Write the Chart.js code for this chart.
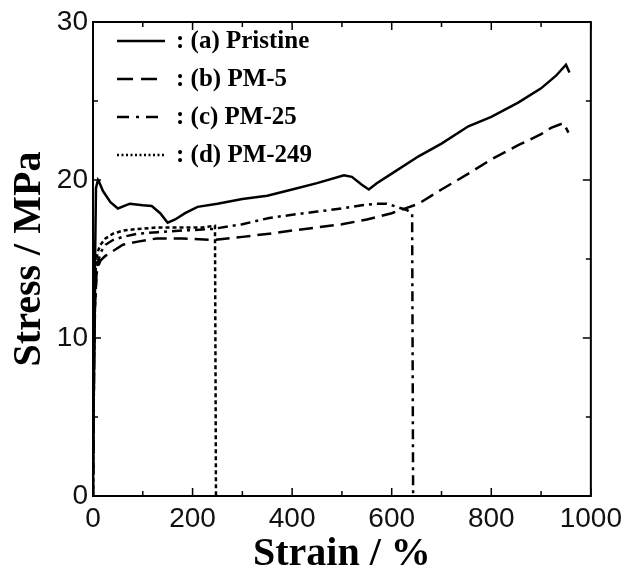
<!DOCTYPE html>
<html>
<head>
<meta charset="utf-8">
<script src="https://cdn.jsdelivr.net/npm/chart.js@4/dist/chart.umd.min.js"></script>
<style>
  html, body { margin: 0; padding: 0; background: #fff; }
  #wrap { width: 628px; height: 575px; }
</style>
</head>
<body>
<div id="wrap"><canvas id="chart" width="628" height="575"></canvas></div>
<script>
// strain (%) / stress (MPa)
const pristineX = [0, 3, 6, 10, 12, 20, 35, 50, 74, 100, 118, 135, 150, 165, 185, 210, 250, 300, 350, 400, 450, 504, 520, 540, 554, 570, 600, 654, 700, 754, 800, 854, 900, 930, 950, 957];
const pristineY = [0, 12, 19.5, 20, 19.9, 19.3, 18.6, 18.2, 18.5, 18.4, 18.35, 17.9, 17.3, 17.5, 17.9, 18.3, 18.5, 18.8, 19.0, 19.4, 19.8, 20.3, 20.2, 19.7, 19.4, 19.8, 20.4, 21.5, 22.3, 23.4, 24.0, 24.9, 25.8, 26.6, 27.3, 26.8];

const pm5X = [0, 2, 4, 7, 10, 15, 25, 40, 60, 90, 128, 180, 240, 300, 354, 400, 450, 500, 550, 600, 654, 700, 754, 800, 854, 900, 920, 945, 955];
const pm5Y = [0, 8, 12, 14, 14.5, 14.9, 15.2, 15.5, 15.9, 16.1, 16.3, 16.3, 16.2, 16.4, 16.6, 16.8, 17.0, 17.2, 17.5, 17.9, 18.5, 19.4, 20.4, 21.3, 22.2, 22.9, 23.3, 23.6, 23.0];

const pm25X = [0, 2, 4, 7, 10, 15, 25, 40, 60, 90, 130, 180, 240, 300, 354, 400, 450, 500, 540, 570, 590, 610, 630, 641, 643];
const pm25Y = [0, 8, 12, 14, 14.8, 15.4, 15.9, 16.2, 16.4, 16.6, 16.7, 16.8, 16.9, 17.2, 17.6, 17.8, 18.0, 18.2, 18.4, 18.5, 18.5, 18.3, 18.1, 17.9, 0];

const pm249X = [0, 2, 4, 6, 10, 15, 25, 40, 60, 90, 130, 180, 220, 245, 247];
const pm249Y = [0, 8, 13, 14.8, 15.5, 15.9, 16.3, 16.6, 16.8, 16.9, 17.0, 17.0, 17.0, 17.1, 0];

const seriesNames = ["(a) Pristine", "(b) PM-5", "(c) PM-25", "(d) PM-249"];
const xTicks = [0, 200, 400, 600, 800, 1000];
const yTicks = [0, 10, 20, 30];

const pts = (xs, ys) => xs.map((x, i) => ({ x, y: ys[i] }));

const serif = "'Liberation Serif', 'Times New Roman', serif";
const sans = "'Liberation Sans', Arial, sans-serif";

// inward ticks on all four sides + frame
const frameTicks = {
  id: "frameTicks",
  afterDraw(chart) {
    const { ctx, chartArea: a, scales } = chart;
    const x = scales.x, y = scales.y;
    ctx.save();
    ctx.strokeStyle = "#000";
    ctx.lineWidth = 2;
    ctx.strokeRect(a.left, a.top, a.right - a.left, a.bottom - a.top);
    ctx.lineWidth = 1.5;
    ctx.beginPath();
    for (let v = 0; v <= 1000; v += 100) {
      const px = x.getPixelForValue(v);
      const len = v % 200 === 0 ? 8 : 5;
      ctx.moveTo(px, a.bottom); ctx.lineTo(px, a.bottom - len);
      ctx.moveTo(px, a.top); ctx.lineTo(px, a.top + len);
    }
    for (let v = 0; v <= 30; v += 5) {
      const py = y.getPixelForValue(v);
      const len = v % 10 === 0 ? 8 : 5;
      ctx.moveTo(a.left, py); ctx.lineTo(a.left + len, py);
      ctx.moveTo(a.right, py); ctx.lineTo(a.right - len, py);
    }
    ctx.stroke();
    ctx.restore();
  }
};

// legend in the upper-left corner of the plot
const innerLegend = {
  id: "innerLegend",
  afterDraw(chart) {
    const { ctx, chartArea: a } = chart;
    ctx.save();
    ctx.font = "bold 25px " + serif;
    ctx.fillStyle = "#000";
    ctx.textBaseline = "middle";
    chart.data.datasets.forEach((ds, i) => {
      const yy = a.top + 19 + i * 38;
      ctx.strokeStyle = "#000";
      ctx.lineWidth = 2.5;
      ctx.setLineDash(ds.legendDash || []);
      ctx.beginPath();
      ctx.moveTo(a.left + 24, yy);
      ctx.lineTo(a.left + 72, yy);
      ctx.stroke();
      ctx.setLineDash([]);
      ctx.fillText(": " + ds.label, a.left + 83, yy + 1);
    });
    ctx.restore();
  }
};

new Chart(document.getElementById("chart"), {
  type: "line",
  data: {
    datasets: [
      { label: seriesNames[0], data: pts(pristineX, pristineY), borderDash: [], legendDash: [] },
      { label: seriesNames[1], data: pts(pm5X, pm5Y), borderDash: [14, 7], legendDash: [16, 8] },
      { label: seriesNames[2], data: pts(pm25X, pm25Y), borderDash: [10, 5, 3, 5], legendDash: [12, 7, 3, 7] },
      { label: seriesNames[3], data: pts(pm249X, pm249Y), borderDash: [4, 3], legendDash: [2, 2.5] }
    ].map(d => Object.assign(d, {
      borderColor: "#000",
      backgroundColor: "#000",
      borderWidth: 2.5,
      pointRadius: 0,
      tension: 0,
      fill: false
    }))
  },
  options: {
    responsive: false,
    animation: false,
    layout: { padding: { top: 22, right: 31, left: 0, bottom: 0 } },
    plugins: {
      legend: { display: false },
      tooltip: { enabled: false }
    },
    scales: {
      x: {
        type: "linear",
        min: 0,
        max: 1000,
        grid: { display: false, drawTicks: false },
        border: { display: false },
        afterBuildTicks: s => { s.ticks = xTicks.map(v => ({ value: v })); },
        afterFit: s => { s.height = 79; },
        ticks: {
          color: "#111",
          padding: 6,
          maxRotation: 0,
          callback: v => String(v),
          font: { family: sans, size: 28 }
        },
        title: {
          display: true,
          text: "Strain / %",
          color: "#000",
          padding: { top: 0, bottom: 0 },
          font: { family: serif, size: 40, weight: "bold", lineHeight: 1 }
        }
      },
      y: {
        type: "linear",
        min: 0,
        max: 30,
        grid: { display: false, drawTicks: false },
        border: { display: false },
        afterBuildTicks: s => { s.ticks = yTicks.map(v => ({ value: v })); },
        afterFit: s => { s.width = 93; },
        ticks: {
          color: "#111",
          padding: 5,
          callback: v => String(v),
          font: { family: sans, size: 28 }
        },
        title: {
          display: true,
          text: "Stress / MPa",
          color: "#000",
          padding: { top: 10, bottom: 0 },
          font: { family: serif, size: 40, weight: "bold", lineHeight: 1 }
        }
      }
    }
  },
  plugins: [frameTicks, innerLegend]
});
</script>
</body>
</html>
